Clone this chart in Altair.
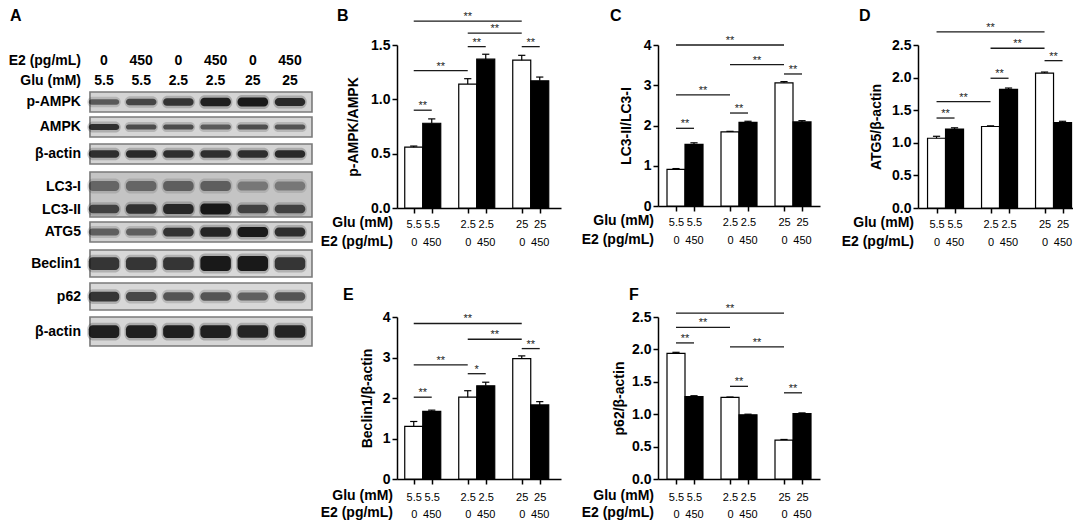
import altair as alt
import pandas as pd

FONT = "Liberation Sans"

# ---------------- data ----------------
glu_labels = ["5.5", "5.5", "2.5", "2.5", "25", "25"]
e2_labels = ["0", "450", "0", "450", "0", "450"]

pampk = [0.56, 0.78, 1.14, 1.37, 1.36, 1.17]
pampk_err = [0.01, 0.04, 0.05, 0.045, 0.045, 0.035]
lc3 = [0.91, 1.53, 1.84, 2.08, 3.06, 2.09]
lc3_err = [0.02, 0.04, 0.015, 0.025, 0.03, 0.03]
atg5 = [1.07, 1.21, 1.25, 1.82, 2.07, 1.31]
atg5_err = [0.03, 0.02, 0.01, 0.02, 0.015, 0.02]
beclin1 = [1.30, 1.67, 2.02, 2.30, 2.97, 1.83]
beclin1_err = [0.12, 0.03, 0.16, 0.09, 0.07, 0.08]
p62 = [1.94, 1.27, 1.26, 0.99, 0.60, 1.01]
p62_err = [0.015, 0.015, 0.005, 0.01, 0.01, 0.01]

# significance brackets: (from bar, to bar, height, label)
sig_b = [(0, 4, 1.72, "**"), (2, 4, 1.61, "**"), (2, 3, 1.485, "**"),
         (4, 5, 1.485, "**"), (0, 2, 1.265, "**"), (0, 1, 0.90, "**")]
sig_c = [(0, 4, 4.0, "**"), (2, 4, 3.51, "**"), (4, 5, 3.28, "**"),
         (0, 2, 2.76, "**"), (2, 3, 2.31, "**"), (0, 1, 1.93, "**")]
sig_d = [(0, 4, 2.70, "**"), (2, 4, 2.45, "**"), (4, 5, 2.26, "**"),
         (2, 3, 1.99, "**"), (0, 2, 1.63, "**"), (0, 1, 1.38, "**")]
sig_e = [(0, 4, 3.84, "**"), (2, 4, 3.45, "**"), (4, 5, 3.22, "**"),
         (0, 2, 2.82, "**"), (2, 3, 2.60, "*"), (0, 1, 2.02, "**")]
sig_f = [(0, 4, 2.56, "**"), (0, 2, 2.34, "**"), (0, 1, 2.10, "**"),
         (2, 4, 2.04, "**"), (2, 3, 1.43, "**"), (4, 5, 1.33, "**")]

# western blot (panel A): lane headers and estimated band intensities (0..1)
lane_e2 = ["0", "450", "0", "450", "0", "450"]
lane_glu = ["5.5", "5.5", "2.5", "2.5", "25", "25"]
blot_names = ["p-AMPK", "AMPK", "β-actin", "LC3-I", "LC3-II", "ATG5", "Beclin1", "p62", "β-actin"]
band_pampk = [0.45, 0.6, 0.75, 0.95, 1.0, 0.85]
band_ampk = [0.8, 0.55, 0.55, 0.45, 0.55, 0.5]
band_actin1 = [0.8, 0.85, 0.8, 0.8, 0.8, 0.85]
band_lc3i = [0.3, 0.3, 0.35, 0.35, 0.15, 0.15]
band_lc3ii = [0.6, 0.75, 0.85, 1.0, 0.6, 0.6]
band_atg5 = [0.4, 0.4, 0.75, 0.9, 1.0, 0.8]
band_beclin1 = [0.75, 0.75, 0.75, 1.0, 1.0, 0.75]
band_p62 = [0.75, 0.6, 0.5, 0.5, 0.4, 0.5]
band_actin2 = [0.95, 0.95, 0.95, 0.95, 0.9, 0.9]

# ---------------- helpers ----------------
UNIT = 18.0  # px per bar slot


def slot(i):
    return (i // 2) * 3 + (i % 2) + 0.5


def bar_panel(vals, errs, ytitle, ymax, yticks, fmt, sig, letter, letter_xy,
              title_x, x0, width, height, row_dy=(15, 33.5), lab_pad=5, lab_lh=18.5):
    n = len(vals)
    pos = [slot(i) for i in range(n)]
    xs = alt.Scale(domain=[x0, x0 + width / UNIT], nice=False, zero=False)
    ys = alt.Scale(domain=[0, ymax], nice=False, zero=True)
    df = pd.DataFrame({
        "pos": pos, "val": vals, "err": errs,
        "fill": ["white" if i % 2 == 0 else "black" for i in range(n)],
    })
    df["left"] = df["pos"] - 0.5
    df["right"] = df["pos"] + 0.5
    df["top"] = df["val"] + df["err"]
    df["capl"] = df["pos"] - 0.2
    df["capr"] = df["pos"] + 0.2
    df["zero"] = 0.0

    expr = " : ".join(
        f"abs(datum.value - {p}) < 0.1 ? ['{g}', '{e}']"
        for p, g, e in zip(pos, glu_labels, e2_labels)
    ) + " : ''"
    xaxis = alt.Axis(values=pos, labelExpr=expr, title=None, grid=False,
                     domainColor="black", domainWidth=1.5, tickColor="black",
                     tickWidth=1.5, tickSize=5, labelFont=FONT, labelFontSize=11,
                     labelColor="black", labelPadding=lab_pad, labelLineHeight=lab_lh,
                     labelOverlap=False, labelFlush=False, labelBound=False)
    yaxis = alt.Axis(values=yticks, format=fmt, title=ytitle, grid=False,
                     domainColor="black", domainWidth=1.5, tickColor="black",
                     tickWidth=1.5, tickSize=5, labelFont=FONT, labelFontSize=14,
                     labelFontWeight="bold", labelColor="black", labelPadding=2,
                     titleFont=FONT, titleFontSize=14, titleFontWeight="bold",
                     titleColor="black", titleX=title_x, titleY=height / 2,
                     titleAngle=270, titleAlign="center", titleBaseline="middle")

    base = alt.Chart(df)
    bars = base.mark_rect(stroke="black", strokeWidth=1.2).encode(
        x=alt.X("left:Q", scale=xs, axis=xaxis), x2="right:Q",
        y=alt.Y("val:Q", scale=ys, axis=yaxis), y2="zero:Q",
        fill=alt.Fill("fill:N", scale=None))
    err = base.mark_rule(color="black", strokeWidth=1.2).encode(
        x=alt.X("pos:Q", scale=xs, axis=xaxis),
        y=alt.Y("val:Q", scale=ys, axis=yaxis), y2="top:Q")
    caps = base.mark_rule(color="black", strokeWidth=1.2).encode(
        x=alt.X("capl:Q", scale=xs, axis=xaxis), x2="capr:Q",
        y=alt.Y("top:Q", scale=ys, axis=yaxis))

    sdf = pd.DataFrame({
        "xa": [slot(a) for a, b, h, l in sig],
        "xb": [slot(b) for a, b, h, l in sig],
        "h": [h for a, b, h, l in sig],
        "lab": [l for a, b, h, l in sig],
    })
    sdf["xm"] = (sdf["xa"] + sdf["xb"]) / 2
    sbase = alt.Chart(sdf)
    srule = sbase.mark_rule(color="#1a1a1a", strokeWidth=1.3).encode(
        x=alt.X("xa:Q", scale=xs, axis=xaxis), x2="xb:Q",
        y=alt.Y("h:Q", scale=ys, axis=yaxis))
    stext = sbase.mark_text(font=FONT, fontSize=11, color="#1a1a1a",
                            baseline="alphabetic", dy=-1).encode(
        x=alt.X("xm:Q", scale=xs, axis=xaxis),
        y=alt.Y("h:Q", scale=ys, axis=yaxis), text="lab:N")

    tdf = pd.DataFrame({"t": ["Glu (mM)", "E2 (pg/mL)"], "k": [0, 1]})
    row1 = alt.Chart(tdf[tdf.k == 0]).mark_text(
        font=FONT, fontSize=14, fontWeight="bold", align="right",
        baseline="middle", color="black").encode(
        x=alt.value(-4), y=alt.value(height + row_dy[0]), text="t:N")
    row2 = alt.Chart(tdf[tdf.k == 1]).mark_text(
        font=FONT, fontSize=14, fontWeight="bold", align="right",
        baseline="middle", color="black").encode(
        x=alt.value(-4), y=alt.value(height + row_dy[1]), text="t:N")
    let = alt.Chart(pd.DataFrame({"t": [letter]})).mark_text(
        font=FONT, fontSize=16, fontWeight="bold", align="left",
        baseline="top", color="black").encode(
        x=alt.value(letter_xy[0]), y=alt.value(letter_xy[1]), text="t:N")

    return alt.layer(bars, err, caps, srule, stext, row1, row2, let).properties(
        width=width, height=height)


# ---------------- panel A (western blot) ----------------
A_W, A_H = 312, 163
LANE_PX = 37.2
a_x0 = 1 - 95 / LANE_PX
ax = alt.Scale(domain=[a_x0, a_x0 + A_W / LANE_PX], nice=False, zero=False)
ay = alt.Scale(domain=[0, A_H], reverse=True, nice=False, zero=False)
lanes = [1, 2, 3, 4, 5, 6]
BOX_L, BOX_R = 0.623, 6.591
LABEL_X = 0.381

# strip layout (top, bottom in panel px units), background fill
strips = [
    ("p-AMPK", 47, 67, "#d4d4d4"),
    ("AMPK", 72, 92, "#d6d6d6"),
    ("β-actin", 99, 119, "#d4d4d4"),
    ("LC3", 127, 172, "#c4c4c4"),
    ("ATG5", 177, 197, "#d2d2d2"),
    ("Beclin1", 205, 232, "#d8d8d8"),
    ("p62", 238, 265, "#d8d8d8"),
    ("β-actin2", 272, 301, "#d6d6d6"),
]
sdf_a = pd.DataFrame({
    "name": [s[0] for s in strips],
    "top": [s[1] for s in strips],
    "bot": [s[2] for s in strips],
    "fill": [s[3] for s in strips],
    "l": BOX_L, "r": BOX_R,
})
strip_layer = alt.Chart(sdf_a).mark_rect(stroke="#7a7a7a", strokeWidth=1.6).encode(
    x=alt.X("l:Q", scale=ax, axis=None), x2="r:Q",
    y=alt.Y("top:Q", scale=ay, axis=None), y2="bot:Q",
    fill=alt.Fill("fill:N", scale=None))

# band rows: intensities, y centre, min/max band thickness
band_rows = [
    (band_pampk, 57, 3, 9),
    (band_ampk, 82, 3, 7),
    (band_actin1, 109, 5, 8),
    (band_lc3i, 141, 8, 14),
    (band_lc3ii, 164, 5, 11),
    (band_atg5, 187, 5, 10),
    (band_beclin1, 218.5, 6, 15),
    (band_p62, 251.5, 6, 11),
    (band_actin2, 286.5, 8, 13),
]
rows = []
for inten, yc, hmin, hmax in band_rows:
    for lane, v in zip(lanes, inten):
        h = hmin + (hmax - hmin) * v
        rows.append({"lane": lane, "v": v, "y1": yc - h / 2, "y2": yc + h / 2,
                     "hy1": yc - h / 2 - 2.5, "hy2": yc + h / 2 + 2.5,
                     "x1": lane - 0.41, "x2": lane + 0.41,
                     "hx1": lane - 0.45, "hx2": lane + 0.45,
                     "op": 0.25 + 0.7 * v, "hop": 0.10 + 0.15 * v})
bdf = pd.DataFrame(rows)
halo = alt.Chart(bdf).mark_rect(cornerRadius=6, color="#222222").encode(
    x=alt.X("hx1:Q", scale=ax, axis=None), x2="hx2:Q",
    y=alt.Y("hy1:Q", scale=ay, axis=None), y2="hy2:Q",
    opacity=alt.Opacity("hop:Q", scale=None))
core = alt.Chart(bdf).mark_rect(cornerRadius=4, color="#111111").encode(
    x=alt.X("x1:Q", scale=ax, axis=None), x2="x2:Q",
    y=alt.Y("y1:Q", scale=ay, axis=None), y2="y2:Q",
    opacity=alt.Opacity("op:Q", scale=None))

label_y = [57, 82, 109, 142, 165, 187, 218.5, 251.5, 286.5]
ldf = pd.DataFrame({"t": blot_names, "y": label_y, "x": LABEL_X})
labels = alt.Chart(ldf).mark_text(font=FONT, fontSize=14, fontWeight="bold",
                                  align="right", baseline="middle", color="black").encode(
    x=alt.X("x:Q", scale=ax, axis=None), y=alt.Y("y:Q", scale=ay, axis=None), text="t:N")

hdf = pd.DataFrame({
    "t": ["E2 (pg/mL)", "Glu (mM)"], "y": [16, 36], "x": LABEL_X,
})
head_titles = alt.Chart(hdf).mark_text(font=FONT, fontSize=14, fontWeight="bold",
                                       align="right", baseline="middle", color="black").encode(
    x=alt.X("x:Q", scale=ax, axis=None), y=alt.Y("y:Q", scale=ay, axis=None), text="t:N")
vdf = pd.DataFrame({
    "lane": lanes * 2,
    "t": lane_e2 + lane_glu,
    "y": [16] * 6 + [36] * 6,
})
head_vals = alt.Chart(vdf).mark_text(font=FONT, fontSize=14, fontWeight="bold",
                                     align="center", baseline="middle", color="black").encode(
    x=alt.X("lane:Q", scale=ax, axis=None), y=alt.Y("y:Q", scale=ay, axis=None), text="t:N")
letA = alt.Chart(pd.DataFrame({"t": ["A"]})).mark_text(
    font=FONT, fontSize=16, fontWeight="bold", align="left", baseline="top",
    color="black").encode(x=alt.value(1), y=alt.value(-37), text="t:N")

panel_a = alt.layer(strip_layer, halo, core, labels, head_titles, head_vals, letA).properties(
    width=A_W, height=A_H)

# ---------------- bar panels ----------------
panel_b = bar_panel(pampk, pampk_err, "p-AMPK/AMPK", 1.5, [0, 0.5, 1.0, 1.5], ".1f",
                    sig_b, "B", (-60, -37), -44, -0.43, 164, 163)
panel_c = bar_panel(lc3, lc3_err, "LC3-II/LC3-I", 4, [0, 1, 2, 3, 4], "d",
                    sig_c, "C", (-48, -37), -32, -0.5, 162, 161)
panel_d = bar_panel(atg5, atg5_err, "ATG5/β-actin", 2.5, [0, 0.5, 1.0, 1.5, 2.0, 2.5], ".1f",
                    sig_d, "D", (-59, -37), -42, -0.53, 155, 163)
panel_e = bar_panel(beclin1, beclin1_err, "Beclin1/β-actin", 4, [0, 1, 2, 3, 4], "d",
                    sig_e, "E", (-54, -30), -30, -0.43, 164, 162,
                    row_dy=(17, 34), lab_pad=7, lab_lh=17)
panel_f = bar_panel(p62, p62_err, "p62/β-actin", 2.5, [0, 0.5, 1.0, 1.5, 2.0, 2.5], ".1f",
                    sig_f, "F", (-29, -30), -39, -0.5, 162, 162,
                    row_dy=(17, 34), lab_pad=7, lab_lh=17)


def spacer(w):
    return alt.Chart(pd.DataFrame({"v": [0]})).mark_point(opacity=0, size=1).encode(
        x=alt.value(0), y=alt.value(0)).properties(width=w, height=1)


chart = alt.concat(
    panel_a, spacer(76), panel_b, spacer(97), panel_c, spacer(98), panel_d,
    spacer(1), spacer(1), panel_e, spacer(1), panel_f,
    columns=7,
    spacing={"row": 109, "column": 0},
    bounds="flush",
    align="each",
).properties(padding=0, background="white").configure_view(stroke=None)

chart.save("out.html", embed_options={"renderer": "svg", "actions": False})
